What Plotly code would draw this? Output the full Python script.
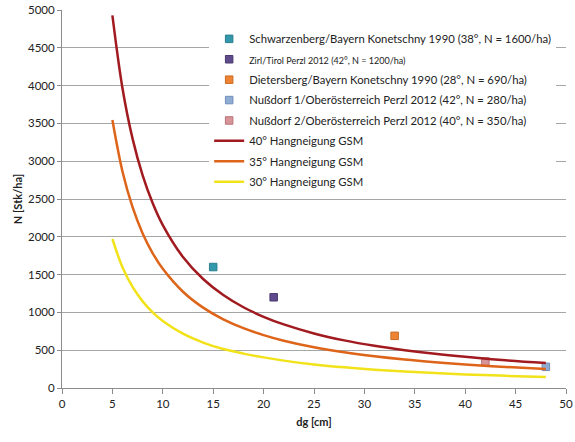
import plotly.graph_objects as go

# GSM curves (dg in cm, N in Stk/ha)
dg_curve = [5, 6, 7, 8, 9, 10, 12, 14, 16, 18, 20, 22, 25, 28, 31, 34, 37, 40, 44, 48]
n_40 = [4930, 3966, 3299, 2813, 2444, 2155, 1733, 1442, 1230, 1068, 942, 841, 722, 630, 558, 500, 452, 412, 367, 331]
n_35 = [3545, 2864, 2392, 2045, 1782, 1576, 1273, 1063, 909, 792, 700, 626, 539, 472, 419, 376, 341, 311, 278, 251]
n_30 = [1971, 1597, 1337, 1146, 1000, 886, 718, 601, 515, 455, 405, 362, 312, 273, 242, 218, 198, 180, 161, 145]

# observed stands
site_names = [
    "Schwarzenberg/Bayern Konetschny 1990 (38°, N = 1600/ha)",
    "<span style='font-size:9px'>Zirl/Tirol Perzl 2012 (42°, N = 1200/ha)</span>",
    "Dietersberg/Bayern Konetschny 1990 (28°, N = 690/ha)",
    "Nußdorf 1/Oberösterreich Perzl 2012 (42°, N = 280/ha)",
    "Nußdorf 2/Oberösterreich Perzl 2012 (40°, N = 350/ha)",
]
site_dg = [15, 21, 33, 48, 42]
site_n = [1600, 1200, 690, 280, 350]
site_colors = ["#3398AB", "#5F4B8B", "#EE8433", "#8FACD3", "#D7959A"]
site_edges = ["#2A7F8F", "#4A3A70", "#C86A22", "#6F8DB8", "#B87378"]

curve_names = ["40° Hangneigung GSM", "35° Hangneigung GSM", "30° Hangneigung GSM"]
curve_colors = ["#A11A1F", "#DD6419", "#F2E21A"]

fig = go.Figure()
for i, (name, x, y, c, e) in enumerate(zip(site_names, site_dg, site_n, site_colors, site_edges)):
    fig.add_trace(go.Scatter(x=[x], y=[y], mode="markers", name=name,
                             legendgroup=f"s{i}",
                             marker=dict(symbol="square", size=7.5, color=c,
                                         line=dict(color=e, width=1))))
for i, (name, ys, c) in enumerate(zip(curve_names, [n_40, n_35, n_30], curve_colors)):
    fig.add_trace(go.Scatter(x=dg_curve, y=ys, mode="lines", name=name,
                             legendgroup=f"c{i}",
                             line=dict(color=c, width=2.5, shape="spline")))

fig.update_layout(
    width=575, height=442,
    margin=dict(l=62, r=9, t=10, b=54, autoexpand=False),
    paper_bgcolor="white", plot_bgcolor="white",
    font=dict(family="Lato, Liberation Sans, sans-serif", size=11.5, color="#222"),
    showlegend=True,
    legend=dict(x=0.292, y=0.962, xanchor="left", yanchor="top",
                bgcolor="white", borderwidth=0,
                font=dict(size=11.3, color="#222"), tracegroupgap=1.4,
                itemwidth=30),
    xaxis=dict(range=[0, 50], tickmode="linear", tick0=0, dtick=5,
               automargin=False,
               showgrid=False, zeroline=False, showline=True,
               linecolor="#8C8C8C", linewidth=1, ticks="outside",
               ticklen=5, tickcolor="#8C8C8C",
               title=dict(text="<b>dg [cm]</b>", font=dict(size=11), standoff=9)),
    yaxis=dict(range=[0, 5000], tickmode="linear", tick0=0, dtick=500,
               automargin=False,
               showgrid=True, gridcolor="#A6A6A6", gridwidth=1,
               zeroline=False, showline=True, linecolor="#8C8C8C",
               linewidth=1, ticks="outside", ticklen=4, tickcolor="#8C8C8C",
               title=dict(text="<b>N [Stk/ha]</b>", font=dict(size=11), standoff=3)),
)

fig.write_html("out.html", config={"displayModeBar": False},
               post_script="document.body.style.margin='0';")
